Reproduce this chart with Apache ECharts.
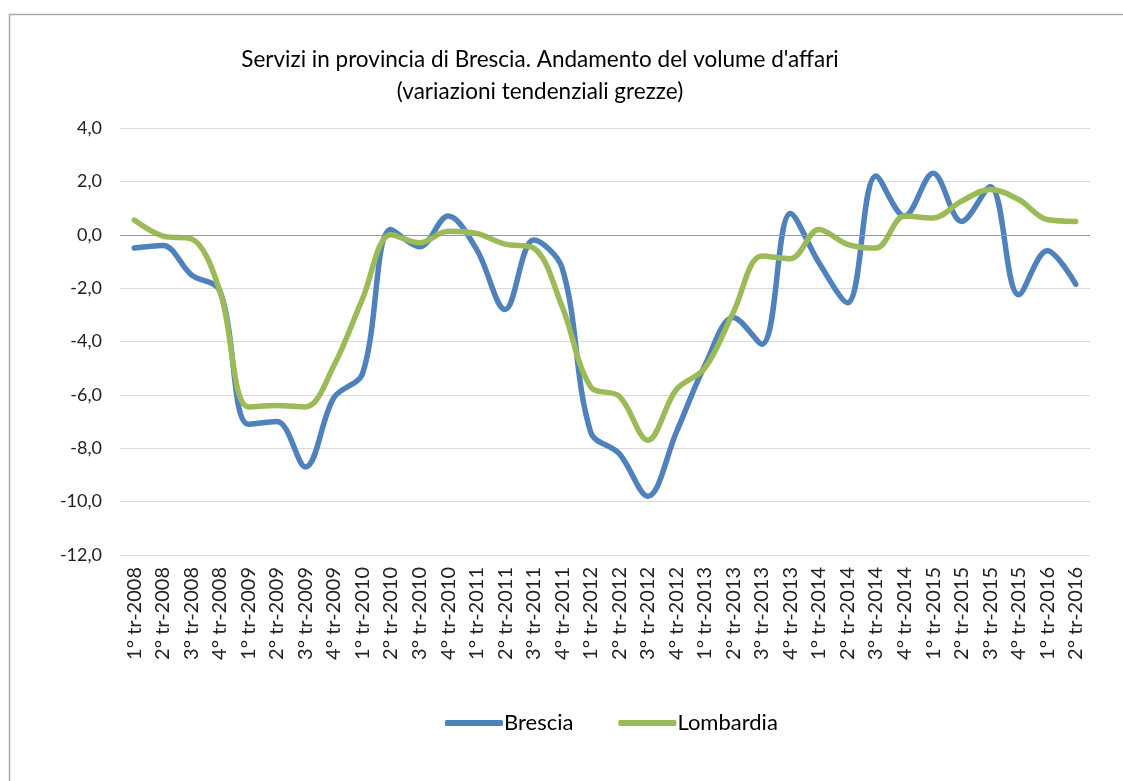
<!DOCTYPE html>
<html>
<head>
<meta charset="utf-8">
<script src="https://cdn.jsdelivr.net/npm/echarts@6/dist/echarts.min.js"></script>
<style>
html,body{margin:0;padding:0;background:#fff;}
#c{width:1123px;height:781px;}
</style>
</head>
<body>
<div id="c"></div>
<script>
const categories = [
 "1° tr-2008","2° tr-2008","3° tr-2008","4° tr-2008",
 "1° tr-2009","2° tr-2009","3° tr-2009","4° tr-2009",
 "1° tr-2010","2° tr-2010","3° tr-2010","4° tr-2010",
 "1° tr-2011","2° tr-2011","3° tr-2011","4° tr-2011",
 "1° tr-2012","2° tr-2012","3° tr-2012","4° tr-2012",
 "1° tr-2013","2° tr-2013","3° tr-2013","4° tr-2013",
 "1° tr-2014","2° tr-2014","3° tr-2014","4° tr-2014",
 "1° tr-2015","2° tr-2015","3° tr-2015","4° tr-2015",
 "1° tr-2016","2° tr-2016"
];
const brescia = [
 -0.5, -0.4, -1.5, -2.1,
 -7.1, -7.0, -8.7, -6.1,
 -5.2, 0.2, -0.45, 0.7,
 -0.55, -2.8, -0.2, -1.25,
 -7.4, -8.2, -9.8, -7.4,
 -4.9, -3.1, -4.1, 0.8,
 -1.05, -2.55, 2.2, 0.7,
 2.3, 0.5, 1.8, -2.25,
 -0.6, -1.85
];
const lombardia = [
 0.55, -0.05, -0.15, -2.1,
 -6.45, -6.4, -6.45, -4.9,
 -2.4, 0.0, -0.3, 0.13,
 0.05, -0.35, -0.5, -2.7,
 -5.7, -6.05, -7.7, -5.8,
 -5.0, -2.9, -0.8, -0.9,
 0.2, -0.36, -0.5, 0.7,
 0.63, 1.26, 1.7, 1.32,
 0.57, 0.5
];
const yMin = -12, yMax = 4, yStep = 2;

const FONT = 'Lato, "Open Sans", sans-serif';
const chart = echarts.init(document.getElementById('c'), null, {renderer:'canvas'});
chart.setOption({
  animation:false,
  backgroundColor:'#ffffff',
  graphic:[{
    type:'rect', left:7, top:12, silent:true,
    shape:{width:1200, height:900},
    style:{fill:'none', stroke:'#aaaaaa', lineWidth:1.5}
  }],
  title:{
    text:"Servizi in provincia di Brescia. Andamento del volume d'affari\n(variazioni tendenziali grezze)",
    left:535, top:39, textAlign:'center',
    textStyle:{fontFamily:FONT, fontWeight:'normal', fontSize:22.5, color:'#000', lineHeight:32}
  },
  legend:{
    data:['Brescia','Lombardia'],
    left:440, top:707,
    icon:'roundRect',
    itemWidth:58, itemHeight:6, itemGap:45,
    textStyle:{fontFamily:FONT, fontSize:22, color:'#000', padding:[0,0,0,-4]}
  },
  grid:{left:120, right:33, top:128, height:427},
  xAxis:{
    type:'category', data:categories, boundaryGap:true,
    axisLine:{show:false}, axisTick:{show:false},
    axisLabel:{rotate:90, interval:0, fontFamily:FONT, fontSize:20, color:'#222', margin:12}
  },
  yAxis:{
    type:'value', min:yMin, max:yMax, interval:yStep,
    axisLine:{show:false}, axisTick:{show:false},
    axisLabel:{fontFamily:FONT, fontSize:18, color:'#222', margin:18,
      formatter:v=>v.toFixed(1).replace('.',',')},
    splitLine:{lineStyle:{color:'#d9d9d9', width:1}}
  },
  series:[
    {name:'Brescia', type:'line', data:brescia, smooth:0.35, symbol:'none',
     lineStyle:{color:'#4f81bd', width:5.5, cap:'round', join:'round'}, itemStyle:{color:'#4f81bd'},
     markLine:{silent:true, symbol:'none', label:{show:false},
       lineStyle:{color:'#999', width:1, type:'solid'}, data:[{yAxis:0}]}},
    {name:'Lombardia', type:'line', data:lombardia, smooth:0.35, symbol:'none',
     lineStyle:{color:'#9bbb59', width:5.5, cap:'round', join:'round'}, itemStyle:{color:'#9bbb59'}}
  ]
});
</script>
</body>
</html>
